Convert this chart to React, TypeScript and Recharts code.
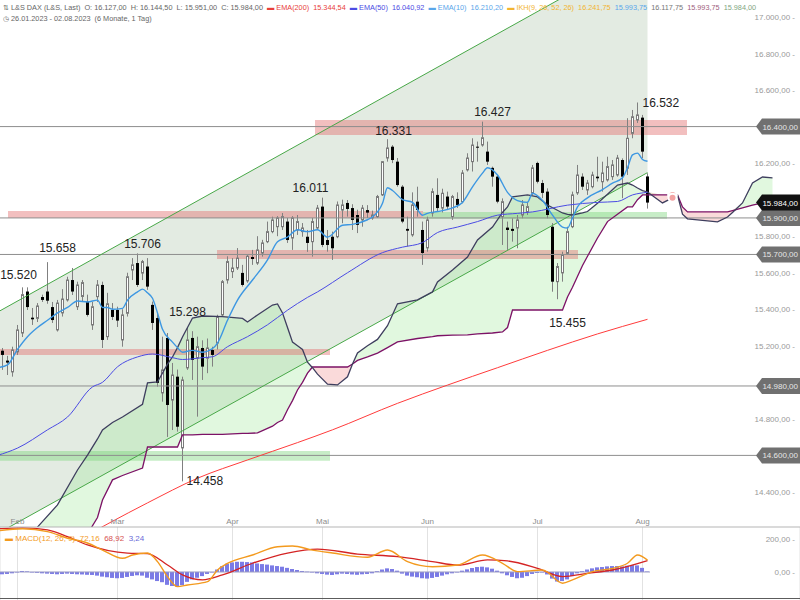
import React from 'react';
import {
  ComposedChart,
  Bar,
  Line,
  Area,
  Scatter,
  XAxis,
  YAxis,
  ReferenceLine,
  ReferenceArea,
  CartesianGrid,
} from 'recharts';

const FONT = '"Liberation Sans", Arial, Helvetica, sans-serif';

// daily candles, index 0 = 26.01.2023 ... index 130 = 02.08.2023
const opens = [
  15160, 15173, 15119, 15057, 15167, 15270, 15497, 15354, 15350, 15467,
  15497, 15412, 15287, 15380, 15451, 15560, 15414, 15470, 15442, 15314,
  15469, 15533, 15250, 15396, 15396, 15232, 15378, 15615, 15653, 15598,
  15634, 15424, 15352, 14942, 15243, 14903, 15031, 14641, 15079, 15243,
  15133, 15188, 15132, 15177, 15215, 15369, 15560, 15606, 15626, 15599,
  15555, 15686, 15653, 15708, 15770, 15825, 15852, 15852, 15880, 15790,
  15834, 15825, 15797, 15770, 15845, 15962, 15779, 15797, 15797, 15943,
  15982, 15954, 15916, 15889, 15943, 15900, 15907, 16026, 16228, 16290,
  16208, 16071, 15840, 15807, 15989, 15834, 15736, 15927, 16026, 15954,
  16017, 15907, 16004, 15989, 16163, 16208, 16290, 16299, 16263, 16174,
  16126, 15907, 15847, 15840, 15845, 15916, 15934, 16037, 16201, 16091,
  16044, 15852, 15551, 15599, 15706, 15852, 16037, 16126, 16053, 16071,
  16126, 16098, 16108, 16126, 16135, 16217, 16172, 16363, 16436, 16449,
  16127,
];
const highs = [
  15190, 15188, 15145, 15195, 15314, 15520, 15520, 15407, 15434, 15480,
  15658, 15440, 15451, 15510, 15578, 15626, 15551, 15560, 15480, 15440,
  15560, 15551, 15490, 15434, 15414, 15400, 15600, 15680, 15706, 15670,
  15680, 15442, 15380, 15250, 15270, 15106, 15070, 15031, 15298, 15280,
  15250, 15230, 15240, 15195, 15370, 15560, 15690, 15680, 15735, 15643,
  15697, 15725, 15800, 15780, 15880, 15907, 15910, 15927, 15900, 15910,
  15916, 15872, 15834, 15900, 15971, 16011, 15834, 15825, 15990, 16000,
  15998, 15975, 15945, 15971, 15970, 15940, 16026, 16210, 16331, 16299,
  16228, 16080, 15907, 16040, 16071, 15880, 15907, 16062, 16117, 16060,
  16044, 16026, 16040, 16162, 16254, 16336, 16318, 16427, 16318, 16181,
  16135, 16007, 15880, 15898, 15916, 15998, 15989, 16190, 16208, 16108,
  16062, 15872, 15653, 15715, 15852, 16044, 16190, 16144, 16108, 16153,
  16235, 16208, 16235, 16217, 16245, 16226, 16446, 16491, 16532, 16464,
  16144.5,
];
const lows = [
  15070, 15068, 15040, 15031, 15150, 15248, 15396, 15314, 15330, 15440,
  15430, 15325, 15278, 15360, 15442, 15478, 15396, 15442, 15360, 15287,
  15440, 15188, 15232, 15341, 15303, 15195, 15360, 15560, 15522, 15560,
  15506, 15287, 14976, 14894, 14701, 14739, 14730, 14458, 15068, 15013,
  14812, 15013, 15050, 15086, 15180, 15360, 15540, 15571, 15615, 15524,
  15545, 15643, 15643, 15688, 15762, 15816, 15800, 15834, 15763, 15725,
  15807, 15797, 15714, 15688, 15834, 15740, 15715, 15670, 15789, 15871,
  15907, 15834, 15817, 15852, 15900, 15890, 15900, 16020, 16208, 16200,
  16071, 15871, 15743, 15797, 15907, 15643, 15715, 15907, 15934, 15930,
  15943, 15889, 15955, 15980, 16154, 16154, 16208, 16290, 16190, 16071,
  15980, 15752, 15725, 15770, 15734, 15898, 15916, 16026, 16089, 16008,
  15898, 15496, 15455, 15551, 15697, 15844, 16026, 16053, 16026, 16062,
  16099, 16044, 16099, 16108, 16126, 16008, 16135, 16336, 16420, 16227,
  15951,
];
const closes = [
  15135, 15150, 15108, 15177, 15287, 15480, 15412, 15345, 15418, 15451,
  15447, 15341, 15434, 15456, 15560, 15497, 15533, 15546, 15369, 15414,
  15533, 15232, 15430, 15358, 15338, 15369, 15578, 15643, 15533, 15661,
  15524, 15325, 14997, 15068, 14876, 15040, 14757, 15013, 15232, 15123,
  15195, 15086, 15188, 15150, 15359, 15551, 15661, 15626, 15680, 15533,
  15690, 15675, 15725, 15763, 15825, 15889, 15900, 15907, 15779, 15900,
  15880, 15845, 15763, 15880, 15954, 15752, 15752, 15734, 15971, 15971,
  15949, 15889, 15862, 15954, 15929, 15916, 16017, 16208, 16283, 16217,
  16080, 15880, 15830, 15971, 15944, 15708, 15889, 16044, 15954, 16035,
  15962, 16017, 15971, 16146, 16228, 16299, 16285, 16339, 16208, 16126,
  15989, 15989, 15834, 15829, 15889, 15971, 15962, 16174, 16098, 16037,
  15916, 15551, 15634, 15697, 15825, 16026, 16135, 16071, 16091, 16135,
  16117, 16146, 16181, 16190, 16228, 16126, 16336, 16454, 16464, 16263,
  15984,
];

const monthTicks = [4, 24, 47, 65, 86, 108, 129];
const monthLabels = ['Feb', 'Mar', 'Apr', 'Mai', 'Jun', 'Jul', 'Aug'];
const priceTicks = [17000, 16800, 16600, 16200, 15800, 15600, 15400, 15200, 14800, 14400];

// [index, value]
const ema10 = [
  [0, 15080], [2, 15095], [4, 15180], [6, 15250], [8, 15300], [10, 15340], [12, 15380],
  [14, 15410], [16, 15445], [18, 15440], [20, 15450], [21, 15410], [22, 15410], [23, 15400],
  [25, 15405], [26, 15450], [28, 15495], [29, 15510], [30, 15490], [31, 15460], [32, 15380],
  [33, 15290], [35, 15220], [36, 15190], [37, 15165], [39, 15175], [41, 15165], [43, 15185],
  [44, 15215], [46, 15340], [48, 15450], [51, 15560], [54, 15670], [56, 15770], [58, 15795],
  [60, 15835], [62, 15825], [64, 15835], [66, 15795], [69, 15860], [71, 15865], [74, 15890],
  [75, 15905], [77, 15980], [78, 16065], [79, 16050], [81, 16000], [83, 15985], [85, 15915],
  [86, 15925], [88, 15935], [91, 15955], [93, 15985], [95, 16070], [97, 16145], [98, 16175],
  [100, 16135], [102, 16040], [104, 15995], [106, 15985], [107, 16035], [109, 15995],
  [111, 15915], [113, 15850], [114, 15845], [115, 15900], [116, 15960], [118, 16010],
  [121, 16055], [123, 16090], [125, 16120], [126, 16175], [127, 16245], [128, 16255],
  [129, 16220], [130, 16210],
];
const ema50 = [
  [0, 14600], [4, 14640], [10, 14740], [14, 14810], [19, 14975], [21, 15000], [24, 15085],
  [28, 15139], [31, 15155], [35, 15135], [37, 15125], [41, 15135], [43, 15140], [46, 15195],
  [50, 15250], [54, 15315], [58, 15395], [62, 15465], [64, 15495], [70, 15600], [77, 15710],
  [81, 15740], [85, 15765], [88, 15820], [92, 15850], [96, 15880], [100, 15915], [104, 15925],
  [107, 15933], [114, 15970], [120, 15985], [124, 15990], [127, 16026], [130, 16040],
];
const ema200 = [
  [15, 14120], [30, 14340], [40, 14475], [50, 14575], [60, 14670], [67, 14740], [80, 14885],
  [90, 14985], [100, 15080], [110, 15175], [120, 15265], [130, 15345],
];

// Ichimoku cloud (already shifted 26 days ahead)
const cloudIdx = [
  6, 8, 12, 16, 18, 20, 21, 23, 25, 29, 30, 32, 34, 35, 36, 37, 39, 41, 45, 49,
  50, 52, 55, 56, 57, 58, 59, 60, 61, 62, 63, 64, 66, 68, 70, 71, 72, 74, 76, 78,
  80, 84, 87, 88, 91, 94, 96, 99, 101, 102, 103, 106, 108, 110, 113, 114, 115, 117, 118, 120,
  122, 124, 126, 127, 128, 129, 130, 133, 135, 136, 137, 138, 140, 144, 146, 147, 149, 151, 153, 155,
];
const spanA = [
  14100, 14208, 14329, 14520, 14602, 14690, 14739, 14780, 14810, 14880, 14997, 15002, 15100, 15139, 15190, 15248, 15352, 15363, 15360, 15350,
  15330, 15369, 15423, 15429, 15380, 15300, 15220, 15200, 15180, 15110, 15080, 15045, 14990, 14986, 15030, 15100, 15161, 15200, 15235, 15310,
  15430, 15451, 15495, 15549, 15615, 15686, 15779, 15850, 15930, 15960, 16015, 16026, 16015, 15971, 15927, 15920, 15916, 15927, 15935, 15980,
  16030, 16080, 16091, 16080, 16064, 16050, 16042, 15982, 16010, 16026, 15920, 15895, 15889, 15878, 15905, 15930, 15982, 16091, 16124, 16119,
];
const spanB = [
  13850, 13900, 14000, 14100, 14170, 14260, 14356, 14466, 14490, 14531, 14646, 14646, 14646, 14646, 14646, 14712, 14712, 14715, 14715, 14720,
  14720, 14723, 14760, 14780, 14794, 14850, 14900, 14958, 15000, 15050, 15084, 15084, 15084, 15084, 15084, 15100, 15120, 15139, 15160, 15190,
  15221, 15240, 15250, 15255, 15258, 15260, 15265, 15270, 15276, 15300, 15396, 15396, 15396, 15396, 15396, 15467, 15520, 15640, 15690, 15790,
  15880, 15920, 15960, 15960, 16000, 16026, 16026, 16026, 16026, 16026, 15960, 15933, 15933, 15933, 15933, 15940, 15955, 15970, 15982, 15982,
];

// trend channel end points
const channelIdx = [0, 130];
const channelLow = [14172, 16148];
const channelHigh = [15384, 17365];

// support / resistance zones
const zoneFrom = [63.5, 2.1, 85.1, 43.9, 0.5, 0.5];
const zoneTo = [137.9, 85.1, 133.9, 116.1, 66.5, 66.5];
const zoneLow = [16354, 15900, 15895, 15675, 15150, 14570];
const zoneHigh = [16436, 15938, 15933, 15725, 15183, 14624];
const zoneIsRed = [true, true, false, true, true, false];

const levels = [16400, 15900, 15700, 14980, 14600];
const lastPrice = 15984;

// swing highs / lows that carry a label
const noteIdx = [5, 10, 28, 38, 37, 65, 78, 97, 128, 112];
const noteVal = [15520, 15658, 15706, 15298, 14458, 16011, 16331, 16427, 16532, 15455];
const noteOffset = [
  [-4, -8, 'middle'], [10, -10, 'middle'], [5, -5, 'middle'], [0, -12, 'middle'], [4, 4, 'start'],
  [-12, -6, 'middle'], [6, -4, 'middle'], [10, -6, 'middle'], [5, 5, 'start'], [10, 28, 'middle'],
];

// MACD(12, 26, 9)
const hist = [
  -12, -14, -12, -8, -2, 6, 4, -2, -5, -8,
  -10, -12, -14, -12, -10, -12, -14, -15, -17, -18,
  -22, -28, -32, -36, -38, -36, -30, -24, -20, -22,
  -35, -45, -55, -62, -78, -85, -88, -80, -60, -45,
  -35, -25, -12, -2, 15, 35, 50, 58, 62, 62,
  60, 58, 52, 48, 45, 40, 36, 32, 25, 18,
  12, 6, 2, -2, -8, -12, -16, -18, -14, -10,
  -12, -15, -17, -14, -12, -8, 5, 15, 22, 18,
  8, -10, -22, -28, -32, -38, -40, -36, -30, -22,
  -14, -8, -2, 8, 16, 24, 30, 32, 28, 20,
  8, -8, -20, -30, -38, -35, -25, -12, -6, -2,
  -15, -40, -58, -55, -45, -25, -8, 5, 15, 22,
  28, 30, 34, 36, 36, 34, 38, 42, 40, 25,
  3,
];
const macd = [
  [0, 250], [5, 262], [10, 245], [14, 205], [18, 176], [21, 133], [25, 83], [27, 103], [30, 115],
  [32, 63], [34, -28], [36, -89], [38, -79], [42, -59], [44, 12], [46, 52], [51, 103], [56, 153],
  [59, 158], [63, 133], [67, 115], [74, 89], [78, 133], [82, 63], [87, 32], [92, 42], [97, 103],
  [101, 53], [104, 2], [109, 12], [113, -68], [115, -48], [119, 2], [123, 22], [126, 53],
  [128, 103], [130, 72],
];
const signal = [
  [0, 262], [5, 268], [10, 255], [14, 215], [18, 164], [26, 115], [30, 112], [34, 42], [37, -18],
  [41, -48], [45, -18], [51, 53], [58, 115], [64, 139], [72, 109], [80, 93], [87, 63], [92, 42],
  [98, 73], [102, 67], [108, 22], [113, -28], [118, -8], [123, 12], [130, 69],
];

const deNum = (v: number, digits = 2) => {
  const neg = v < 0;
  const [whole, frac] = Math.abs(v).toFixed(digits).split('.');
  const grouped = whole.replace(/\B(?=(\d{3})+(?!\d))/g, '.');
  return (neg ? '-' : '') + grouped + (digits ? ',' + frac : '');
};

const toRows = (pts: number[][]) => pts.map(([i, v]) => ({ i, v }));

const candleRows = opens.map((o, i) => ({
  i, o, h: highs[i], l: lows[i], c: closes[i], hl: [lows[i], highs[i]],
}));
const allIdx = Array.from({ length: 161 }, (_, i) => i);

const cloudRows = cloudIdx.map((i, k) => {
  const a = spanA[k];
  const b = spanB[k];
  const top = Math.max(a, b);
  return { i, a, b, green: [b, top], pink: [a, top] };
});
const channelRows = channelIdx.map((i, k) => ({
  i, lo: channelLow[k], hi: channelHigh[k], band: [channelLow[k], channelHigh[k]],
}));
const noteRows = noteIdx.map((i, k) => ({ i, v: noteVal[k], k }));
const histRows = hist.map((v, i) => ({ i, v }));

function Candle(props: any) {
  const { x, y, width, height, payload } = props;
  if (!payload || !Number.isFinite(y)) return null;
  const { o, h, l, c } = payload;
  const cx = Math.floor(x + width / 2) + 0.5;
  const span = h - l || 1;
  const toPx = (v: number) => y + ((h - v) / span) * height;
  const top = toPx(Math.max(o, c));
  const bot = toPx(Math.min(o, c));
  const up = c >= o;
  return (
    <g>
      <line x1={cx} x2={cx} y1={y} y2={y + height} stroke="#808080" strokeWidth={1} />
      {up ? (
        <rect x={cx - 1} y={top} width={2} height={Math.max(bot - top, 1)} fill="#fff" stroke="#7a7a7a" strokeWidth={1} />
      ) : (
        <rect x={cx - 1.5} y={top} width={3} height={Math.max(bot - top, 1)} fill="#000" />
      )}
    </g>
  );
}

function HistBar(props: any) {
  const { x, y, width, height } = props;
  if (!Number.isFinite(y)) return null;
  const top = Math.min(y, y + height);
  const h = Math.abs(height);
  return <rect x={Math.round(x + width / 2 - 2)} y={top} width={4} height={Math.max(h, 0.5)} fill="#7b7be6" />;
}

function Note(props: any) {
  const { cx, cy, payload } = props;
  const [dx, dy, anchor] = noteOffset[payload.k];
  return (
    <text x={cx + (dx as number)} y={cy + (dy as number)} textAnchor={anchor as any} fontSize={12} fill="#222" fontFamily={FONT}>
      {deNum(payload.v, 0)}
    </text>
  );
}

function AxisTick(props: any) {
  const { x, y, payload } = props;
  return (
    <text x={x} y={y} dy={3} textAnchor="end" fontSize={8} fill="#9a9a9a" fontFamily={FONT}>
      {deNum(payload.value)} -
    </text>
  );
}

function Tag(props: any) {
  const { viewBox, text, dark } = props;
  if (!viewBox) return null;
  const r = viewBox.x + viewBox.width;
  const y = viewBox.y;
  const pts = `${r - 44},${y} ${r - 38},${y - 8} ${r},${y - 8} ${r},${y + 8} ${r - 38},${y + 8}`;
  return (
    <g>
      <polygon points={pts} fill={dark ? '#111' : '#707070'} />
      <text x={r - 2} y={y + 3} textAnchor="end" fontSize={8} fill={dark ? '#fff' : '#e6e6e6'} fontFamily={FONT}>
        {text}
      </text>
    </g>
  );
}

function PriceChart() {
  return (
    <ComposedChart width={800} height={527} data={candleRows} margin={{ top: 0, right: 0, bottom: 0, left: 0 }}>
      <XAxis dataKey="i" type="number" domain={[0.5, 160.5]} allowDataOverflow hide ticks={allIdx} />
      <YAxis
        type="number"
        orientation="right"
        mirror
        domain={[14208, 17093]}
        allowDataOverflow
        ticks={priceTicks}
        interval={0}
        tick={<AxisTick />}
        tickSize={0}
        tickMargin={5}
        axisLine={false}
        tickLine={false}
      />
      <Area data={channelRows} dataKey="band" type="linear" stroke="none" fill="#b2c7ae" fillOpacity={0.36} isAnimationActive={false} />
      <Area data={cloudRows} dataKey="green" type="linear" stroke="none" fill="#9ce896" fillOpacity={0.3} isAnimationActive={false} />
      <Area data={cloudRows} dataKey="pink" type="linear" stroke="none" fill="#f2a2a2" fillOpacity={0.4} isAnimationActive={false} />
      {zoneFrom.map((x1, k) => (
        <ReferenceArea
          key={`z${k}`}
          x1={x1}
          x2={zoneTo[k]}
          y1={zoneLow[k]}
          y2={zoneHigh[k]}
          fill={zoneIsRed[k] ? '#e27272' : '#72d272'}
          fillOpacity={zoneIsRed[k] ? 0.45 : 0.4}
          stroke="none"
          ifOverflow="hidden"
        />
      ))}
      {levels.map((v) => (
        <ReferenceLine key={`l${v}`} y={v} stroke="#8e8e8e" strokeWidth={1} label={<Tag text={deNum(v)} />} />
      ))}
      <Line data={channelRows} dataKey="hi" type="linear" stroke="#48a848" strokeWidth={1} dot={false} activeDot={false} isAnimationActive={false} />
      <Line data={channelRows} dataKey="lo" type="linear" stroke="#48a848" strokeWidth={1} dot={false} activeDot={false} isAnimationActive={false} />
      <Line data={toRows(ema200)} dataKey="v" type="monotone" stroke="#ff3b3b" strokeWidth={1} dot={false} activeDot={false} isAnimationActive={false} />
      <Line data={cloudRows} dataKey="b" type="linear" stroke="#7c1266" strokeWidth={1.3} dot={false} activeDot={false} isAnimationActive={false} />
      <Line data={cloudRows} dataKey="a" type="linear" stroke="#3e3e5e" strokeWidth={1.3} dot={false} activeDot={false} isAnimationActive={false} />
      <Line data={toRows(ema50)} dataKey="v" type="monotone" stroke="#4b4be4" strokeWidth={1} dot={false} activeDot={false} isAnimationActive={false} />
      <Bar dataKey="hl" shape={(p: any) => <Candle {...p} />} barSize={3} isAnimationActive={false} />
      <Line data={toRows(ema10)} dataKey="v" type="monotone" stroke="#3d97e2" strokeWidth={1.4} dot={false} activeDot={false} isAnimationActive={false} />
      <Scatter data={noteRows} dataKey="v" shape={(p: any) => <Note {...p} />} isAnimationActive={false} />
      <ReferenceLine y={lastPrice} stroke="none" label={<Tag text={deNum(lastPrice)} dark />} />
    </ComposedChart>
  );
}

function MacdChart() {
  return (
    <ComposedChart width={800} height={85} data={histRows} margin={{ top: 0, right: 0, bottom: 0, left: 0 }}>
      <CartesianGrid horizontal={false} stroke="#e2e2e2" />
      <XAxis
        dataKey="i"
        type="number"
        orientation="top"
        height={12}
        domain={[0.5, 160.5]}
        allowDataOverflow
        ticks={monthTicks}
        interval={0}
        tickFormatter={(v: number) => monthLabels[monthTicks.indexOf(v)]}
        tickLine={false}
        tickSize={0}
        tickMargin={3}
        axisLine={{ stroke: '#b5b5b5' }}
        tick={{ fontSize: 8, fill: '#8c8c8c', fontFamily: FONT }}
      />
      <YAxis
        type="number"
        orientation="right"
        mirror
        domain={[-170, 273]}
        allowDataOverflow
        ticks={[0, 200]}
        interval={0}
        tick={<AxisTick />}
        tickSize={0}
        tickMargin={5}
        axisLine={false}
        tickLine={false}
      />
      <ReferenceLine segment={[{ x: 0.5, y: 0 }, { x: 130.5, y: 0 }]} stroke="#9d9dc2" />
      <Bar dataKey="v" shape={(p: any) => <HistBar {...p} />} barSize={4} isAnimationActive={false} />
      <Line data={toRows(signal)} dataKey="v" type="monotone" stroke="#d42424" strokeWidth={1.3} dot={false} activeDot={false} isAnimationActive={false} />
      <Line data={toRows(macd)} dataKey="v" type="monotone" stroke="#f39a1e" strokeWidth={1.4} dot={false} activeDot={false} isAnimationActive={false} />
    </ComposedChart>
  );
}

export default function App() {
  const last = opens.length - 1;
  return (
    <div style={{ position: 'absolute', left: 0, top: 0, width: 800, height: 600, background: '#fff', overflow: 'hidden' }}>
      <div style={{ position: 'absolute', left: 0, top: 0 }}>
        <PriceChart />
      </div>
      <div style={{ position: 'absolute', left: 0, top: 515 }}>
        <MacdChart />
      </div>
      <div style={{ position: 'absolute', left: 0, top: 598, width: 800, height: 1, background: '#5c5c5c' }} />
      <svg width={800} height={600} style={{ position: 'absolute', left: 0, top: 0, pointerEvents: 'none' }}>
        <text x={3} y={10} fontSize={7.3} fill="#666" fontFamily={FONT} style={{ whiteSpace: 'pre' }}>
          <tspan>{`⇅ L&S DAX (L&S, Last)  O: ${deNum(opens[last])}  H: ${deNum(highs[last])}  L: ${deNum(lows[last])}  C: ${deNum(closes[last])}  `}</tspan>
          <tspan fill="#e8403a">{`▬ EMA(200)  ${deNum(15344.54)}  `}</tspan>
          <tspan fill="#4b4be4">{`▬ EMA(50)  ${deNum(16040.92)}  `}</tspan>
          <tspan fill="#5aa6ea">{`▬ EMA(10)  ${deNum(16210.2)}  `}</tspan>
          <tspan fill="#f2b430">{`▬ IKH(9, 26, 52, 26)  ${deNum(16241.75)}  `}</tspan>
          <tspan fill="#5aa6ea">{`${deNum(15993.75)}  `}</tspan>
          <tspan fill="#777">{`${deNum(16117.75)}  `}</tspan>
          <tspan fill="#a0607e">{`${deNum(15993.75)}  `}</tspan>
          <tspan fill="#7fa67f">{deNum(15984)}</tspan>
        </text>
        <text x={3} y={21} fontSize={7.3} fill="#666" fontFamily={FONT} style={{ whiteSpace: 'pre' }}>
          ◷ 26.01.2023 - 02.08.2023  (6 Monate, 1 Tag)
        </text>
        <text x={5} y={541} fontSize={8} fontFamily={FONT} style={{ whiteSpace: 'pre' }}>
          <tspan fill="#f39a1e">{`▬ MACD(12, 26, 9)  72,16  `}</tspan>
          <tspan fill="#d65050">{`68,92  `}</tspan>
          <tspan fill="#6a6ad8">3,24</tspan>
        </text>
      </svg>
    </div>
  );
}
